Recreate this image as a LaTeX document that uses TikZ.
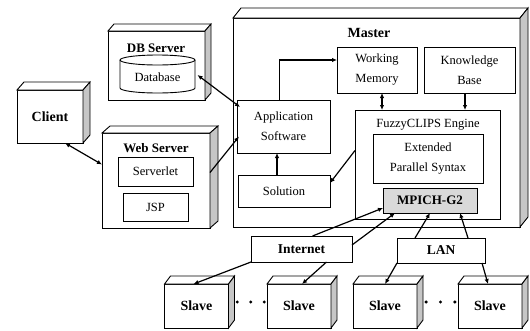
\documentclass[tikz,border=0pt]{standalone}
\usepackage{fontspec}
\setmainfont{Liberation Serif}
\usetikzlibrary{calc,arrows.meta}
\tikzset{
  boxline/.style={draw=black, line width=0.9pt},
  fbox/.style={boxline, fill=white, inner sep=0pt, outer sep=0pt, align=center,
    font=\fontsize{12.5}{20}\selectfont},
  bbox/.style={fbox, font=\fontsize{13}{16}\selectfont\bfseries},
  topface/.style={boxline, fill=white},
  sideface/.style={boxline, fill=gray!45},
  ttl/.style={inner sep=0pt, font=\fontsize{13}{16}\selectfont\bfseries},
  rtl/.style={inner sep=0pt, font=\fontsize{12.5}{16}\selectfont},
  arr/.style={line width=1.2pt, -{Latex[length=5pt,width=4.5pt]}},
  darr/.style={line width=1.2pt, {Latex[length=5pt,width=4.5pt]}-{Latex[length=5pt,width=4.5pt]}},
}
\newcommand\threedbox[3]{%
  \draw[topface] (#1.north west) -- ++(#2,#3) -- ($(#1.north east)+(#2,#3)$) -- (#1.north east) -- cycle;
  \draw[sideface] (#1.north east) -- ++(#2,#3) -- ($(#1.south east)+(#2,#3)$) -- (#1.south east) -- cycle;}
\begin{document}
\begin{tikzpicture}[x=1pt,y=-1pt]
\useasboundingbox (0,0) rectangle (530,330);

% Client
\node[bbox, font=\fontsize{14}{16}\selectfont\bfseries, minimum width=66, minimum height=53] (client) at (50,116.5) {Client};
\threedbox{client}{7}{-8}

% DB Server
\node[fbox, minimum width=97, minimum height=69] (dbs) at (156.5,65.5) {};
\threedbox{dbs}{6}{-7}
\node[ttl] (dbt) at (156,48) {DB Server};
\coordinate (dbc) at (157.5,77);
\draw[boxline, fill=white] ($(dbc)+(-37.5,-17)$) -- ($(dbc)+(-37.5,11)$)
  arc[start angle=180, end angle=360, x radius=37.5pt, y radius=5pt] -- ($(dbc)+(37.5,-17)$);
\draw[boxline] ($(dbc)+(0,-17)$) ellipse[x radius=37.5pt, y radius=5pt];
\node[inner sep=0pt, font=\fontsize{12.5}{16}\selectfont] (db) at (dbc) {Database};
\coordinate (dbe) at ($(dbc)+(40,-2)$);

% Web Server
\node[fbox, minimum width=108, minimum height=95] (web) at (156,180.5) {};
\threedbox{web}{8}{-7}
\node[ttl] (webt) at (156,148) {Web Server};
\node[fbox, minimum width=75, minimum height=29] (servlet) at (155.5,171.5) {Serverlet};
\node[fbox, minimum width=65, minimum height=28] (jsp) at (155.5,207) {JSP};

% Master
\node[fbox, minimum width=287, minimum height=209] (master) at (376.5,122.5) {};
\threedbox{master}{8}{-10}
\node[ttl, font=\fontsize{14}{16}\selectfont\bfseries] (mastert) at (369,33) {Master};
\node[fbox, minimum width=80, minimum height=46] (wm) at (377,70) {Working\\Memory};
\node[fbox, minimum width=91, minimum height=46] (kb) at (469.5,70) {Knowledge\\Base};
\node[fbox, minimum width=93, minimum height=53] (app) at (283.5,126.5) {Application\\Software};
\node[fbox, minimum width=145, minimum height=109] (fuzzy) at (427.5,164.5) {};
\node[rtl] (fuzzyt) at (428,125) {FuzzyCLIPS Engine};
\node[fbox, minimum width=110, minimum height=49] (eps) at (428,158.5) {Extended\\Parallel Syntax};
\node[bbox, fill=gray!30, minimum width=94, minimum height=25] (mpich) at (430,200.5) {MPICH-G2};
\node[fbox, minimum width=92, minimum height=32] (sol) at (284,191) {Solution};

% Networks
\node[bbox, font=\fontsize{13.5}{16}\selectfont\bfseries, minimum width=101, minimum height=26] (inet) at (301.5,249) {Internet};
\node[bbox, font=\fontsize{13.5}{16}\selectfont\bfseries, minimum width=88, minimum height=25] (lan) at (441,250.5) {LAN};

% Slaves
\foreach \n/\x in {s1/196.5, s2/299, s3/385, s4/490}{
  \node[bbox, font=\fontsize{14}{16}\selectfont\bfseries, minimum width=64, minimum height=44] (\n) at (\x,306) {Slave};
  \threedbox{\n}{6}{-8}
}
\foreach \p in {0.15,0.5,0.85}{
  \fill ($(s1.east)!\p!(s2.west)+(3,-4)$) circle[radius=1.7pt];
  \fill ($(s3.east)!\p!(s4.west)+(3,-4)$) circle[radius=1.7pt];
}

% Connectors
\coordinate (wmb) at ($(wm.south)+(5,0)$);
\coordinate (kbb) at ($(kb.south)+(-4.5,0)$);
\coordinate (soln) at ($(sol.north)+(-7,0)$);
\coordinate (appn) at ($(app.north)+(-4,0)$);
\draw[darr] ($(client.south east)+(-18,0)$) -- ($(web.west)+(0,-16)$);
\draw[darr] (dbe) -- ($(app.north west)+(3,7)$);
\draw[arr] ($(web.east)+(0,-8)$) -- ($(app.west)+(2,10)$);
\draw[arr] (appn) |- ($(wm.west)+(0,-10)$);
\draw[darr] (wmb) -- (wmb |- fuzzy.north);
\draw[arr] (kbb) -- (kbb |- fuzzy.north);
\draw[arr] (soln) -- (soln |- app.south);
\draw[arr] ($(fuzzy.west)+(0,-14)$) -- ($(sol.east)+(0,-8)$);

\draw[arr] ($(inet.north)+(11,0)$) -- ($(mpich.west)+(0,7.5)$);
\draw[arr] ($(inet.east)+(0,-4)$) -- ($(mpich.south west)+(12,0)$);
\draw[arr] ($(lan.north)+(-26,0)$) -- (mpich.south);
\draw[arr] ($(lan.north)+(27,0)$) -- ($(mpich.south)+(30,0)$);

\draw[arr] (inet.south west) -- ($(s1.north)+(-3,0)$);
\draw[arr] ($(inet.south)+(25,0)$) -- ($(s2.north)+(3,0)$);
\draw[arr] (lan.south west) -- (s3.north);
\draw[arr] ($(lan.south east)+(-3,0)$) -- ($(s4.north)+(-2,0)$);
\end{tikzpicture}
\end{document}
